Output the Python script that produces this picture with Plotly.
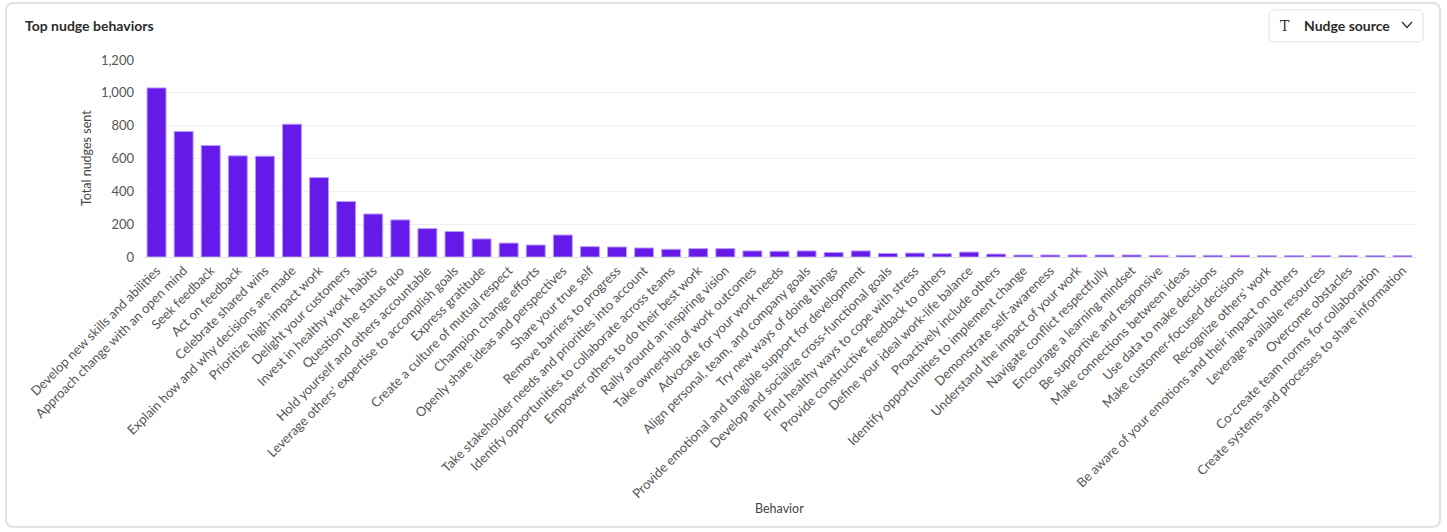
import plotly.graph_objects as go

behaviors = [
    "Develop new skills and abilities",
    "Approach change with an open mind",
    "Seek feedback",
    "Act on feedback",
    "Celebrate shared wins",
    "Explain how and why decisions are made",
    "Prioritize high-impact work",
    "Delight your customers",
    "Invest in healthy work habits",
    "Question the status quo",
    "Hold yourself and others accountable",
    "Leverage others' expertise to accomplish goals",
    "Express gratitude",
    "Create a culture of mutual respect",
    "Champion change efforts",
    "Openly share ideas and perspectives",
    "Share your true self",
    "Remove barriers to progress",
    "Take stakeholder needs and priorities into account",
    "Identify opportunities to collaborate across teams",
    "Empower others to do their best work",
    "Rally around an inspiring vision",
    "Take ownership of work outcomes",
    "Advocate for your work needs",
    "Align personal, team, and company goals",
    "Try new ways of doing things",
    "Provide emotional and tangible support for development",
    "Develop and socialize cross-functional goals",
    "Find healthy ways to cope with stress",
    "Provide constructive feedback to others",
    "Define your ideal work-life balance",
    "Proactively include others",
    "Identify opportunities to implement change",
    "Demonstrate self-awareness",
    "Understand the impact of your work",
    "Navigate conflict respectfully",
    "Encourage a learning mindset",
    "Be supportive and responsive",
    "Make connections between ideas",
    "Use data to make decisions",
    "Make customer-focused decisions",
    "Recognize others' work",
    "Be aware of your emotions and their impact on others",
    "Leverage available resources",
    "Overcome obstacles",
    "Co-create team norms for collaboration",
    "Create systems and processes to share information",
]

nudges_sent = [
    1030, 765, 679, 616, 614, 809, 484, 338, 262, 226,
    173, 155, 110, 85, 73, 134, 63, 61, 55, 47,
    51, 51, 37, 35, 37, 28, 37, 22, 24, 20,
    30, 18, 12, 12, 12, 12, 12, 10, 10, 10,
    10, 8, 8, 8, 8, 8, 8,
]

y_tickvals = [0, 200, 400, 600, 800, 1000, 1200]

W, H = 1447, 532
L, R, T, B = 143, 31, 60, 275
PW, PH = W - L - R, H - T - B


def px(x):
    return (x - L) / PW


def py(y):
    return (H - B - y) / PH


def rounded_rect(x0, y0, x1, y1, r):
    # pixel coords (y downward) -> paper path
    X0, X1 = px(x0), px(x1)
    Y0, Y1 = py(y0), py(y1)
    rx, ry = r / PW, r / PH
    return (
        f"M {X0+rx},{Y0} L {X1-rx},{Y0} Q {X1},{Y0} {X1},{Y0-ry} "
        f"L {X1},{Y1+ry} Q {X1},{Y1} {X1-rx},{Y1} "
        f"L {X0+rx},{Y1} Q {X0},{Y1} {X0},{Y1+ry} "
        f"L {X0},{Y0-ry} Q {X0},{Y0} {X0+rx},{Y0} Z"
    )


FONT = "Lato, 'Open Sans', sans-serif"

fig = go.Figure()
fig.add_trace(go.Bar(
    x=behaviors,
    y=nudges_sent,
    marker=dict(color="#651ae9", line=dict(color="#b89cf7", width=1)),
    hovertemplate="%{x}<br>%{y}<extra></extra>",
))

shapes = [
    dict(type="path", xref="paper", yref="paper", layer="below",
         path=rounded_rect(6, 3, 1440, 527, 8),
         line=dict(color="#e2e2e2", width=2), fillcolor="rgba(0,0,0,0)"),
    dict(type="path", xref="paper", yref="paper",
         path=rounded_rect(1269, 10, 1423, 42, 5),
         line=dict(color="#e2e2e2", width=1), fillcolor="white"),
    dict(type="path", xref="paper", yref="paper",
         path=f"M {px(1402)},{py(22)} L {px(1407)},{py(27.5)} L {px(1412)},{py(22)}",
         line=dict(color="#333333", width=1.3)),
]

annotations = [
    dict(text="<b>Top nudge behaviors</b>", xref="paper", yref="paper",
         x=px(23), y=py(26), xanchor="left", yanchor="middle", showarrow=False,
         font=dict(family=FONT, size=14, color="#2b2b2b")),
    dict(text="<b>Nudge source</b>", xref="paper", yref="paper",
         x=px(1302), y=py(26), xanchor="left", yanchor="middle", showarrow=False,
         font=dict(family=FONT, size=14, color="#2b2b2b")),
    dict(text="T", xref="paper", yref="paper",
         x=px(1285), y=py(26), xanchor="center", yanchor="middle", showarrow=False,
         font=dict(family="'DejaVu Serif', serif", size=14, color="#333333")),
    dict(text="Behavior", xref="paper", yref="paper",
         x=px(779), y=py(509), xanchor="center", yanchor="middle", showarrow=False,
         font=dict(family=FONT, size=12.5, color="#444444")),
    dict(text="Total nudges sent", xref="paper", yref="paper", textangle=-90,
         x=px(86), y=py(158), xanchor="center", yanchor="middle", showarrow=False,
         font=dict(family=FONT, size=12.5, color="#444444")),
]

fig.update_layout(
    width=W, height=H,
    margin=dict(l=L, r=R, t=T, b=B, autoexpand=False),
    paper_bgcolor="white", plot_bgcolor="white",
    font=dict(family=FONT, color="#555555"),
    showlegend=False,
    bargap=0.3,
    shapes=shapes,
    annotations=annotations,
    xaxis=dict(
        tickangle=-45,
        tickfont=dict(size=13, color="#555555"),
        showgrid=False,
        showline=True, linecolor="#e0e0e0", linewidth=1,
        ticks="",
        automargin=False,
    ),
    yaxis=dict(
        range=[0, 1200],
        tickvals=y_tickvals,
        tickformat=",",
        tickfont=dict(size=13, color="#555555"),
        showgrid=True, gridcolor="#efefef", gridwidth=1,
        zeroline=False,
        ticks="", ticklabelstandoff=8,
        automargin=False,
    ),
)

fig.write_html(
    "out.html",
    config={"displayModeBar": False},
    post_script="document.body.style.margin='0';document.body.style.overflow='hidden';",
)
